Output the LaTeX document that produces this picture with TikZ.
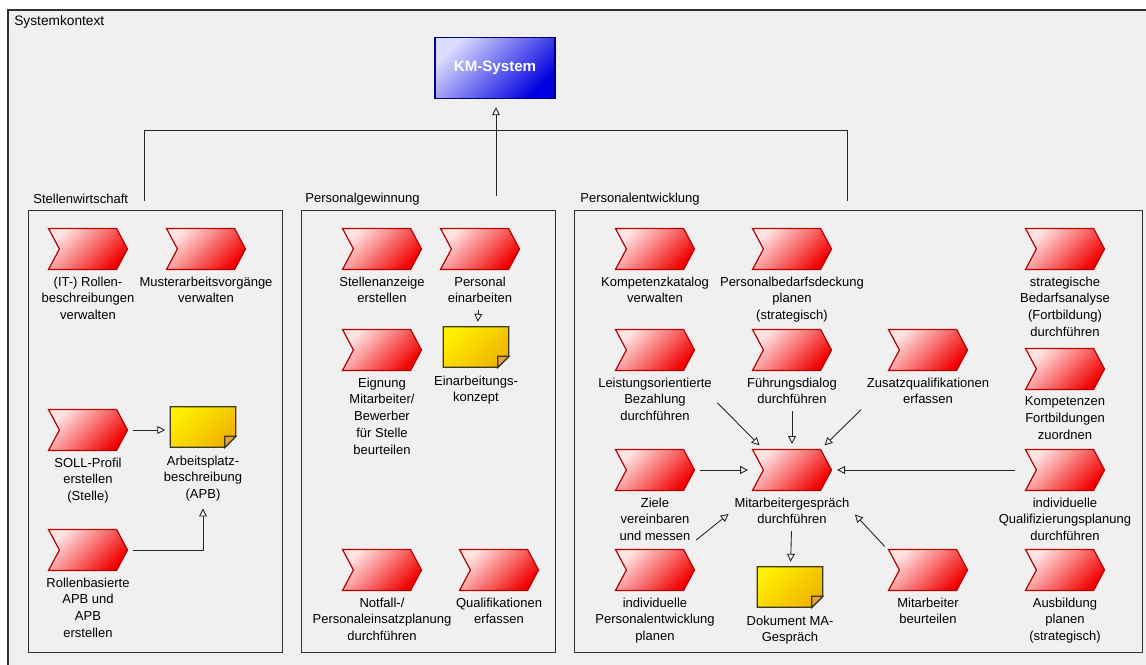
\documentclass[tikz,border=0pt]{standalone}
\usepackage{fontspec}
\setmainfont{Liberation Sans}
\usetikzlibrary{arrows.meta,positioning,shapes.symbols}
\definecolor{ctxgray}{HTML}{F0F0F0}
\definecolor{framegray}{HTML}{303030}
\definecolor{funclight}{HTML}{FFE4E4}
\definecolor{funcred}{HTML}{F20000}
\definecolor{funcline}{HTML}{B80000}
\definecolor{docyellow}{HTML}{FFEF00}
\definecolor{docgold}{HTML}{F0B400}
\definecolor{docline}{HTML}{3A3A20}
\definecolor{foldorange}{HTML}{E8A040}
\definecolor{syslight}{HTML}{DCDCFF}
\definecolor{sysblue}{HTML}{0000E0}
\definecolor{sysline}{HTML}{000080}
\tikzset{%
	funcbox/.style   = {signal, signal to=east, signal from=west, signal pointer angle=124,
	                    minimum width=1.58cm, minimum height=0.82cm, inner sep=0pt,
	                    draw=funcline, line width=0.7pt,
	                    top color=funclight, bottom color=funcred, shading angle=45},
	docbox/.style    = {rectangle, minimum width=1.3cm, minimum height=0.8cm, inner sep=0pt},
	docshade/.style  = {draw=docline, line width=0.7pt, top color=docyellow, bottom color=docgold, shading angle=45},
	sysbox/.style    = {rectangle, minimum width=2.4cm, minimum height=1.22cm, draw=sysline, line width=1pt,
	                    top color=syslight, bottom color=sysblue, shading angle=45,
	                    text=white, font=\fontsize{8.6}{10}\selectfont\bfseries},
	txt/.style       = {font=\fontsize{7.4}{9.6}\selectfont, align=center, inner sep=1pt},
	grouplabel/.style= {font=\fontsize{7.4}{9}\selectfont, anchor=west, inner sep=0pt},
	groupframe/.style= {rectangle, draw=framegray, line width=0.6pt, anchor=north west, inner sep=0pt},
	conn/.style      = {line width=0.5pt, draw=black!85},
	arr/.style       = {conn, -{Triangle[open, length=4.5pt, width=4.5pt]}, shorten >=2.8pt, shorten <=2.8pt},
}
\begin{document}
\begin{tikzpicture}[x=0.02cm, y=-0.02cm]
	\useasboundingbox (0,0) rectangle (1146,665);
	\fill[ctxgray] (8,10) rectangle (1146,665);
	\draw[framegray, line width=0.6pt] (8,665) -- (8,10) -- (1146,10);
	\node[grouplabel, font=\fontsize{7.8}{9}\selectfont] (ctx) at (14,22) {Systemkontext};
	\node[sysbox] (km) at (495,68) {KM-System};

	% groups
	\node[groupframe, minimum width=5.08cm, minimum height=8.84cm] (sw) at (28,210) {};
	\node[groupframe, minimum width=5.08cm, minimum height=8.84cm] (pg) at (301,210) {};
	\node[groupframe, minimum width=11.36cm, minimum height=8.84cm] (pe) at (574,210) {};
	\node[grouplabel] (swl) at (33,199) {Stellenwirtschaft};
	\node[grouplabel] (pgl) at (305,199) {Personalgewinnung};
	\node[grouplabel] (pel) at (580,199) {Personalentwicklung};
	\coordinate (swtop) at (144,201);
	\coordinate (pgtop) at (496,201);
	\coordinate (petop) at (847,201);
	\draw[conn] (swtop) -- ++(0,-71) -| (petop);
	\draw[arr, shorten >=4.5pt] (pgtop) -- (pgtop |- km.south);

	% Stellenwirtschaft
	\node[funcbox] (s1) at (88,249) {};
	\node[txt, below=2.5pt of s1] (s1l) {(IT-) Rollen-\\beschreibungen\\verwalten};
	\node[funcbox] (s2) at (206,249) {};
	\node[txt, below=2.5pt of s2] (s2l) {Musterarbeitsvorgänge\\verwalten};
	\node[funcbox] (s3) at (88,430) {};
	\node[txt, below=2.5pt of s3] (s3l) {SOLL-Profil\\erstellen\\(Stelle)};
	\node[docbox] (s4) at (203,427) {};
	\node[txt, below=3.5pt of s4] (s4l) {Arbeitsplatz-\\beschreibung\\(APB)};
	\node[funcbox] (s5) at (88,550) {};
	\node[txt, below=2.5pt of s5] (s5l) {Rollenbasierte\\APB und\\APB\\erstellen};

	% Personalgewinnung
	\node[funcbox] (p1) at (382,249) {};
	\node[txt, below=2.5pt of p1] (p1l) {Stellenanzeige\\erstellen};
	\node[funcbox] (p2) at (480,249) {};
	\node[txt, below=2.5pt of p2] (p2l) {Personal\\einarbeiten};
	\node[funcbox] (p3) at (382,350) {};
	\node[txt, below=2.5pt of p3] (p3l) {Eignung\\Mitarbeiter/\\Bewerber\\für Stelle\\beurteilen};
	\node[docbox] (p4) at (476,347) {};
	\node[txt, below=3.5pt of p4] (p4l) {Einarbeitungs-\\konzept};
	\node[funcbox] (p5) at (382,570) {};
	\node[txt, below=2.5pt of p5] (p5l) {Notfall-/\\Personaleinsatzplanung\\durchführen};
	\node[funcbox] (p6) at (499,570) {};
	\node[txt, below=2.5pt of p6] (p6l) {Qualifikationen\\erfassen};

	% Personalentwicklung
	\node[funcbox] (e1) at (655,249) {};
	\node[txt, below=2.5pt of e1] (e1l) {Kompetenzkatalog\\verwalten};
	\node[funcbox] (e2) at (792,249) {};
	\node[txt, below=2.5pt of e2] (e2l) {Personalbedarfsdeckung\\planen\\(strategisch)};
	\node[funcbox] (e3) at (1065,249) {};
	\node[txt, below=2.5pt of e3] (e3l) {strategische\\Bedarfsanalyse\\(Fortbildung)\\durchführen};
	\node[funcbox] (e4) at (655,350) {};
	\node[txt, below=2.5pt of e4] (e4l) {Leistungsorientierte\\Bezahlung\\durchführen};
	\node[funcbox] (e5) at (792,350) {};
	\node[txt, below=2.5pt of e5] (e5l) {Führungsdialog\\durchführen};
	\node[funcbox] (e6) at (928,350) {};
	\node[txt, below=2.5pt of e6] (e6l) {Zusatzqualifikationen\\erfassen};
	\node[funcbox] (e7) at (1065,369) {};
	\node[txt, below=2.5pt of e7] (e7l) {Kompetenzen\\Fortbildungen\\zuordnen};
	\node[funcbox] (e8) at (655,470) {};
	\node[txt, below=2.5pt of e8] (e8l) {Ziele\\vereinbaren\\und messen};
	\node[funcbox] (e9) at (792,470) {};
	\node[txt, below=2.5pt of e9] (e9l) {Mitarbeitergespräch\\durchführen};
	\node[funcbox] (e10) at (1065,470) {};
	\node[txt, below=2.5pt of e10] (e10l) {individuelle\\Qualifizierungsplanung\\durchführen};
	\node[funcbox] (e11) at (655,570) {};
	\node[txt, below=2.5pt of e11] (e11l) {individuelle\\Personalentwicklung\\planen};
	\node[docbox] (e12) at (790,587) {};
	\node[txt, below=3.5pt of e12] (e12l) {Dokument MA-\\Gespräch};
	\node[funcbox] (e13) at (928,570) {};
	\node[txt, below=2.5pt of e13] (e13l) {Mitarbeiter\\beurteilen};
	\node[funcbox] (e14) at (1065,570) {};
	\node[txt, below=2.5pt of e14] (e14l) {Ausbildung\\planen\\(strategisch)};

	% documents
	\foreach \d in {s4,p4,e12} {
		\shade[docshade] (\d.north west) -- (\d.north east) -- ([shift={(0,-11)}]\d.south east)
			-- ([shift={(-11,0)}]\d.south east) -- (\d.south west) -- cycle;
		\filldraw[fill=foldorange, draw=docline, line width=0.7pt] ([shift={(0,-11)}]\d.south east)
			-- ([shift={(-11,-11)}]\d.south east) -- ([shift={(-11,0)}]\d.south east) -- cycle;
	}

	% flows
	\draw[arr] (s3) -- (s3 -| s4.west);
	\draw[arr] (s5) -| (s4l);
	\draw[arr] (p2l) -- (p4);
	\draw[arr] (e4l.east) -- ([shift={(-29,0)}]e9.north);
	\draw[arr] (e5l) -- (e9);
	\draw[arr] (e6l.south west) -- ([shift={(29,0)}]e9.north);
	\draw[arr] (e8) -- ([shift={(-39,0)}]e9.center);
	\draw[arr] ([shift={(-45,0)}]e10.center) -- (e9);
	\draw[arr] (e8l.south east) -- (e9l.west);
	\draw[arr] ([shift={(-40,-20)}]e13.center) -- (e9l.east);
	\draw[arr] (e9l) -- (e12);
\end{tikzpicture}
\end{document}
